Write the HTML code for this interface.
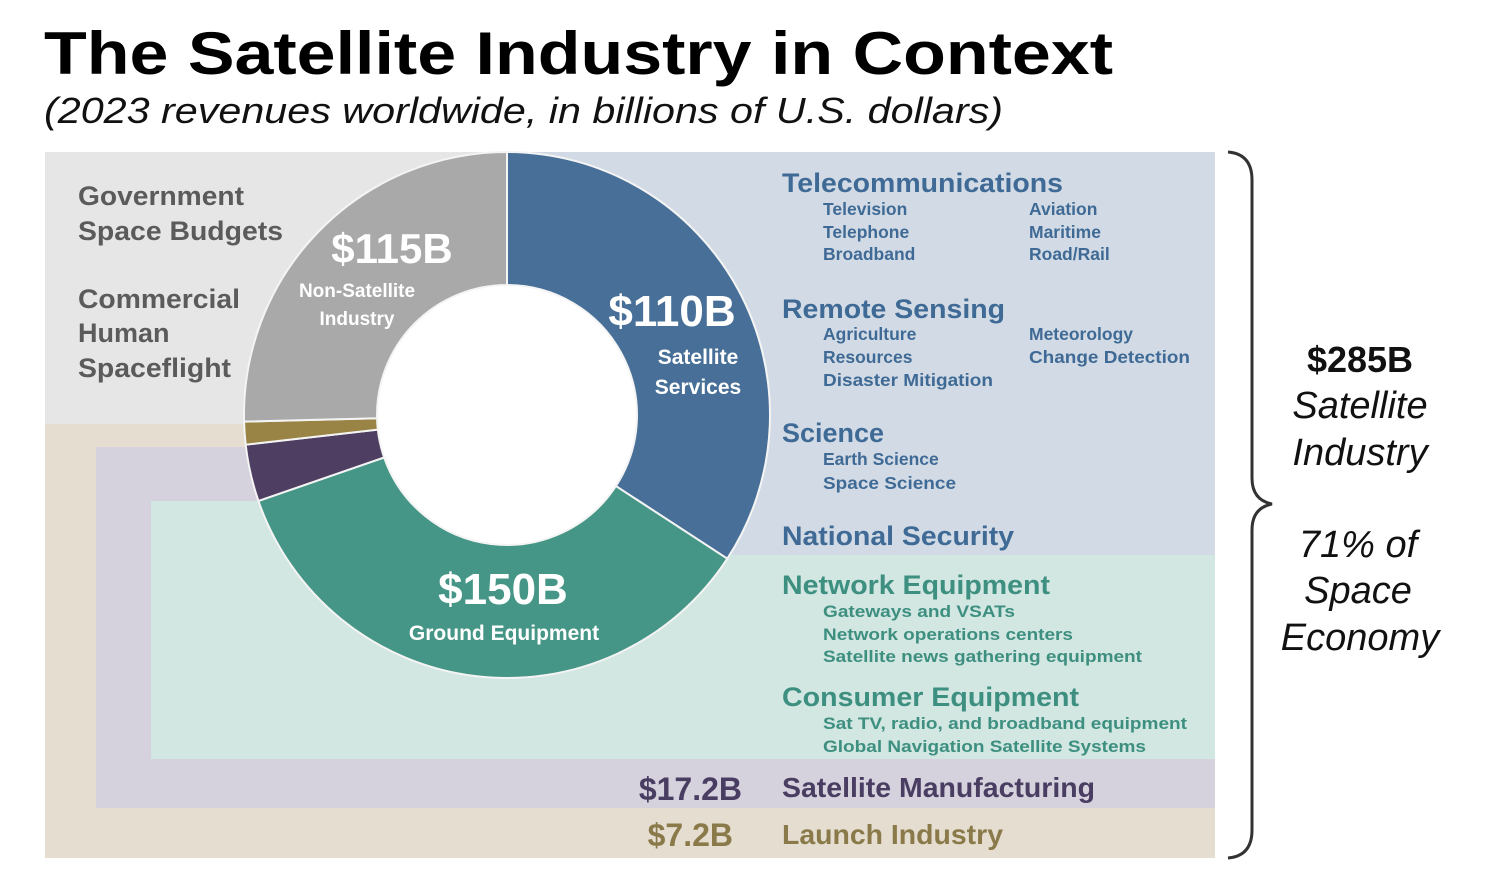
<!DOCTYPE html>
<html><head><meta charset="utf-8"><style>
html,body{margin:0;padding:0;background:#fff;}
svg{display:block;font-family:"Liberation Sans",sans-serif;}
</style></head><body>
<svg id="chart" width="1488" height="882" viewBox="0 0 1488 882" xmlns="http://www.w3.org/2000/svg">
<text x="44" y="74" font-size="60" font-weight="bold" fill="#000" textLength="1069" lengthAdjust="spacingAndGlyphs">The Satellite Industry in Context</text>
<text x="44" y="123" font-size="36" font-style="italic" fill="#111" textLength="959" lengthAdjust="spacingAndGlyphs">(2023 revenues worldwide, in billions of U.S. dollars)</text>

<rect x="45" y="152" width="462" height="272" fill="#e6e6e6"/>
<rect x="45" y="424" width="1170" height="434" fill="#e4ddd0"/>
<rect x="96" y="447" width="1119" height="361" fill="#d5d2de"/>
<rect x="151" y="501" width="1064" height="258" fill="#d2e6e2"/>
<rect x="507" y="152" width="708" height="403" fill="#d2dbe5"/>
<g id="donut"></g>

<g font-size="27" font-weight="bold" fill="#5b5b5b">
<text x="78" y="205" textLength="166" lengthAdjust="spacingAndGlyphs">Government</text><text x="78" y="240" textLength="205" lengthAdjust="spacingAndGlyphs">Space Budgets</text>
<text x="78" y="308" textLength="162" lengthAdjust="spacingAndGlyphs">Commercial</text><text x="78" y="342">Human</text><text x="78" y="377" textLength="153" lengthAdjust="spacingAndGlyphs">Spaceflight</text>
</g>
<g fill="#fff" font-weight="bold" text-anchor="middle">
<text x="392" y="263" font-size="42">$115B</text>
<text x="357" y="297" font-size="19">Non-Satellite</text><text x="357" y="325" font-size="19">Industry</text>
<text x="672" y="326" font-size="44">$110B</text>
<text x="698" y="364" font-size="21">Satellite</text><text x="698" y="394" font-size="21">Services</text>
<text x="503" y="604" font-size="44">$150B</text>
<text x="504" y="640" font-size="21">Ground Equipment</text>
</g>
<g fill="#3f6a95" font-weight="bold">
<text x="782" y="192" font-size="27" textLength="281" lengthAdjust="spacingAndGlyphs">Telecommunications</text>
<g font-size="17.5"><text x="823" y="215">Television</text><text x="823" y="238">Telephone</text><text x="823" y="260">Broadband</text>
<text x="1029" y="215">Aviation</text><text x="1029" y="238">Maritime</text><text x="1029" y="260">Road/Rail</text></g>
<text x="782" y="318" font-size="27" textLength="223" lengthAdjust="spacingAndGlyphs">Remote Sensing</text>
<g font-size="17.5"><text x="823" y="340">Agriculture</text><text x="823" y="363">Resources</text><text x="823" y="386" textLength="170" lengthAdjust="spacingAndGlyphs">Disaster Mitigation</text>
<text x="1029" y="340">Meteorology</text><text x="1029" y="363" textLength="161" lengthAdjust="spacingAndGlyphs">Change Detection</text></g>
<text x="782" y="442" font-size="27">Science</text>
<g font-size="17.5"><text x="823" y="465">Earth Science</text><text x="823" y="489" textLength="133" lengthAdjust="spacingAndGlyphs">Space Science</text></g>
<text x="782" y="545" font-size="27" textLength="232" lengthAdjust="spacingAndGlyphs">National Security</text>
</g>
<g fill="#3d8f80" font-weight="bold">
<text x="782" y="594" font-size="27" textLength="268" lengthAdjust="spacingAndGlyphs">Network Equipment</text>
<g font-size="17"><text x="823" y="617" textLength="192" lengthAdjust="spacingAndGlyphs">Gateways and VSATs</text><text x="823" y="640" textLength="250" lengthAdjust="spacingAndGlyphs">Network operations centers</text><text x="823" y="662" textLength="319" lengthAdjust="spacingAndGlyphs">Satellite news gathering equipment</text></g>
<text x="782" y="706" font-size="27" textLength="297" lengthAdjust="spacingAndGlyphs">Consumer Equipment</text>
<g font-size="17"><text x="823" y="729" textLength="364" lengthAdjust="spacingAndGlyphs">Sat TV, radio, and broadband equipment</text><text x="823" y="752" textLength="323" lengthAdjust="spacingAndGlyphs">Global Navigation Satellite Systems</text></g>
</g>
<text x="742" y="800" font-size="32" font-weight="bold" fill="#4a3d62" text-anchor="end">$17.2B</text>
<text x="782" y="797" font-size="28" font-weight="bold" fill="#4a3d62" textLength="313" lengthAdjust="spacingAndGlyphs">Satellite Manufacturing</text>
<text x="733" y="846" font-size="32" font-weight="bold" fill="#8a7a4a" text-anchor="end">$7.2B</text>
<text x="782" y="844" font-size="28" font-weight="bold" fill="#8a7a4a" textLength="221" lengthAdjust="spacingAndGlyphs">Launch Industry</text>

<path d="M1228,152 Q1252,154 1252,180 L1252,478 Q1252,500 1272,504 Q1252,508 1252,530 L1252,830 Q1252,856 1228,858" fill="none" stroke="#333" stroke-width="3"/>
<g text-anchor="middle" fill="#111">
<text x="1360" y="372" font-size="36" font-weight="bold">$285B</text>
<g font-size="38" font-style="italic"><text x="1360" y="418">Satellite</text><text x="1360" y="465">Industry</text>
<text x="1358" y="557">71% of</text><text x="1358" y="603">Space</text><text x="1360" y="650">Economy</text></g>
</g>
</svg>
<script>
// segment names and revenues (billions USD), clockwise from 12 o'clock
const segments = ["Satellite Services", "Ground Equipment", "Satellite Manufacturing", "Launch Industry", "Non-Satellite Industry"];
const revenues = [110, 150, 17.2, 7.2, 115];
// arc share of the ring as drawn in the picture (percent)
const arcShares = [34.2, 35.5, 3.5, 1.4, 25.4];
const colors = ["#476f97", "#459686", "#4e3f62", "#9a8445", "#a9a9a9"];

const cx = 507, cy = 415, R = 263, r = 130;
const g = document.getElementById('donut');
const total = arcShares.reduce((a, b) => a + b, 0);
function pt(rad, a) { return [cx + rad * Math.sin(a), cy - rad * Math.cos(a)]; }
const hole = document.createElementNS('http://www.w3.org/2000/svg', 'circle');
hole.setAttribute('cx', cx); hole.setAttribute('cy', cy); hole.setAttribute('r', R);
hole.setAttribute('fill', '#ffffff');


g.appendChild(hole);
let acc = 0;
arcShares.forEach((v, i) => {
  const a0 = acc / total * 2 * Math.PI; acc += v;
  const a1 = acc / total * 2 * Math.PI;
  const large = (a1 - a0) > Math.PI ? 1 : 0;
  const [x0, y0] = pt(R, a0), [x1, y1] = pt(R, a1), [x2, y2] = pt(r, a1), [x3, y3] = pt(r, a0);
  const p = document.createElementNS('http://www.w3.org/2000/svg', 'path');
  p.setAttribute('d', `M${x0},${y0} A${R},${R} 0 ${large} 1 ${x1},${y1} L${x2},${y2} A${r},${r} 0 ${large} 0 ${x3},${y3} Z`);
  p.setAttribute('fill', colors[i]);
  p.setAttribute('stroke', '#f4f4f4');
  p.setAttribute('stroke-width', '2');
  
  
  p.setAttribute('data-value', revenues[i]);
  g.appendChild(p);
});
</script>
</body></html>
